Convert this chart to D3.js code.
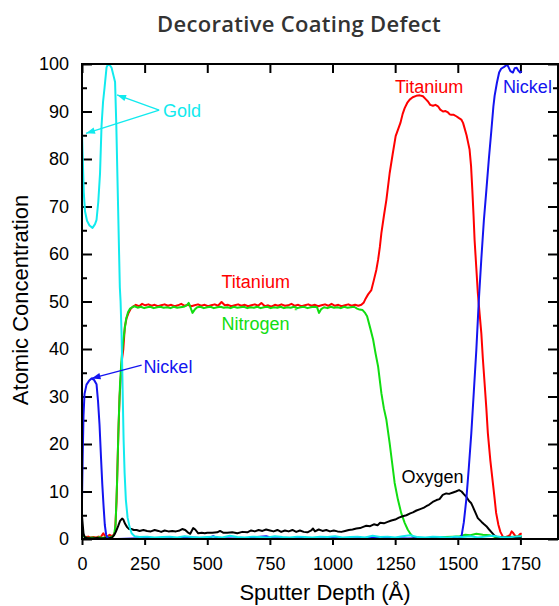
<!DOCTYPE html>
<html>
<head>
<meta charset="utf-8">
<script src="https://cdn.jsdelivr.net/npm/d3@7"></script>
<style>
  body { margin: 0; background: #fff; }
  svg { display: block; }
</style>
</head>
<body>
<svg id="chart" width="559" height="606"></svg>
<script>
// ---------------- DATA (depth in Å, atomic concentration %) ----------------
const title = "Decorative Coating Defect";
const xLabel = "Sputter Depth (Å)";
const yLabel = "Atomic Concentration";
const xTicks = [0, 250, 500, 750, 1000, 1250, 1500, 1750];
const yTicks = [0, 10, 20, 30, 40, 50, 60, 70, 80, 90, 100];
const yMinorTicks = [5, 15, 25, 35, 45, 55, 65, 75, 85, 95];

const titaniumData = [
  [0,1.0],[8,0.6],[16,0.4],[25,0.5],[35,0.3],[45,0.4],[55,0.3],[65,0.5],[75,0.4],[85,1.2],[92,0.6],[100,0.4],
  [110,0.9],[118,0.6],[125,0.8],[132,1.5],[138,8],[145,22],[150,30],[155,34],[160,38],[165,40],[171,44.7],
  [178,46.5],[185,47.5],[195,48.5],[205,49.0],
  [215,49.3],[228,49.0],[240,49.5],[252,49.2],[265,49.4],[278,49.1],[290,49.3],[303,49.0],[316,49.2],[330,49.4],
  [343,49.1],[356,49.3],[370,49.0],[383,49.2],[396,49.5],[410,49.1],[423,49.3],[436,49.0],[450,49.2],[463,49.4],
  [476,49.1],[490,49.3],[503,49.0],[516,49.2],[530,49.4],[543,49.1],[557,49.9],[570,49.2],[583,49.3],[596,49.0],
  [610,49.2],[623,49.4],[636,49.1],[650,49.3],[663,49.0],[676,49.2],[690,49.4],[703,49.1],[716,49.7],[730,49.0],
  [743,49.2],[756,48.9],[770,49.3],[783,49.1],[796,49.4],[810,49.1],[823,49.2],[836,49.5],[850,49.1],[863,49.3],
  [876,49.0],[890,49.2],[903,49.4],[916,49.1],[930,49.3],[943,49.0],[956,49.2],[970,49.4],[983,49.1],[996,49.5],
  [1010,49.1],[1023,49.3],[1036,49.0],[1050,49.2],[1063,49.4],[1076,49.1],[1090,49.3],[1103,49.1],[1115,49.3],
  [1125,49.8],[1132,50.6],[1142,51.5],[1155,52.4],[1165,54.5],[1175,56.7],[1182,58.8],[1189,61.5],[1195,64.4],
  [1205,68],[1215,71.4],[1228,77],[1240,81],[1252,84.8],[1262,86.3],[1271,87.6],[1280,89.5],[1288,90.7],
  [1298,91.8],[1308,92.5],[1320,93],[1334,93.3],[1348,93.4],[1361,93.2],[1372,92.6],[1381,92.1],[1390,91.4],
  [1401,91.2],[1411,91.4],[1421,91.1],[1430,90.4],[1441,90],[1451,90.1],[1461,89.8],[1468,89.4],[1474,89.3],
  [1484,89.3],[1494,89],[1505,88.6],[1514,88.3],[1521,87.6],[1527,86.5],[1535,85],[1541,83.5],[1547,82],
  [1553,78.5],[1558,73.5],[1563,68],[1567,63],[1574,57],[1580,51.8],[1587,47.5],[1594,43.3],[1600,38],
  [1607,32.8],[1614,27.5],[1620,22.3],[1630,16.5],[1640,11.8],[1647,8.5],[1653,5.5],[1662,3],[1670,1.5],
  [1680,0.5],[1690,0.4],[1700,0.6],[1708,0.8],[1715,1.6],[1722,1.2],[1730,0.6],[1740,0.5],[1748,1.0],[1755,1.2]
];

const nitrogenData = [
  [0,1.2],[6,0.6],[15,0.3],[25,0.2],[40,0.3],[55,0.2],[70,0.4],[80,0.2],[90,0.3],[100,0.5],[110,0.3],[120,0.5],
  [128,0.8],[134,3],[140,12],[146,24],[152,33],[158,38],[164,41.5],[170,44],[176,46.3],[184,47.8],[192,48.5],
  [200,48.8],[210,49.0],[222,48.7],[235,48.9],[248,48.6],[260,48.8],[273,48.9],[286,48.6],[300,48.8],[313,48.9],
  [326,48.7],[340,48.8],[353,48.6],[366,48.9],[380,48.7],[393,48.8],[406,48.9],[418,49.2],[426,49.7],[434,48.6],
  [441,47.6],[450,48.3],[460,48.8],[473,48.9],[486,48.6],[500,48.8],[513,48.9],[526,48.6],[540,48.8],[553,48.9],
  [566,48.7],[580,48.8],[593,48.6],[606,48.9],[620,48.7],[633,48.8],[646,48.9],[660,48.6],[673,48.8],[686,48.7],
  [700,48.9],[713,48.6],[726,48.8],[740,48.9],[753,48.6],[766,48.8],[780,48.7],[793,48.9],[806,48.6],[820,48.8],
  [833,48.7],[846,48.9],[860,48.6],[873,48.8],[886,48.9],[900,48.6],[913,48.8],[926,48.9],[938,48.8],[946,47.6],
  [955,48.4],[966,48.8],[980,48.6],[993,48.9],[1006,48.7],[1020,48.8],[1033,48.6],[1046,48.9],[1060,48.7],
  [1073,48.8],[1086,48.9],[1098,48.5],[1108,48.3],[1120,48.2],[1130,47.6],[1138,46.9],[1150,44.5],[1162,42],
  [1172,39],[1182,36.3],[1195,30.7],[1205,27.5],[1215,25.1],[1228,20.2],[1238,16],[1248,11.8],[1261,8.3],
  [1274,5.5],[1288,3.4],[1300,2],[1312,1],[1321,0.5],[1334,0.2],[1360,0.1],[1390,0.2],[1420,0.4],[1450,0.4],
  [1480,0.5],[1508,0.6],[1530,0.9],[1550,0.8],[1574,1.1],[1600,0.9],[1627,0.8],[1645,0.5],[1653,0.2],
  [1670,0.3],[1700,0.4],[1730,0.5],[1755,0.6]
];

const oxygenData = [
  [0,4.8],[3,3],[6,1.2],[10,0.4],[20,0.2],[40,0.1],[60,0.2],[80,0.1],[100,0.2],[120,0.3],[128,0.8],[135,1.5],
  [145,2.8],[152,3.8],[160,4.3],[165,4.1],[172,3.2],[180,2.5],[188,2.1],[197,2.1],[207,1.9],[218,1.9],[230,1.7],
  [245,1.9],[260,1.7],[275,1.6],[290,1.9],[305,1.7],[316,1.5],[330,1.8],[345,1.6],[360,1.7],[375,1.6],[390,1.8],
  [400,2.1],[412,1.9],[422,1.4],[432,1.1],[444,2.3],[452,2.0],[464,1.2],[478,1.3],[490,1.2],[500,1.3],[520,1.3],
  [540,1.4],[551,1.7],[565,1.3],[580,1.3],[600,1.4],[620,1.2],[640,1.5],[660,1.4],[675,1.8],[690,1.6],[705,1.9],
  [720,1.7],[735,2.0],[750,1.8],[765,1.6],[780,1.9],[795,1.5],[810,1.8],[825,1.6],[840,1.9],[855,1.5],[870,1.8],
  [885,1.5],[900,1.4],[915,1.8],[922,2.2],[930,1.6],[945,2.0],[960,1.7],[975,1.9],[990,1.6],[1005,1.8],
  [1020,1.6],[1035,1.5],[1050,1.7],[1065,1.9],[1080,2.0],[1095,2.2],[1110,2.3],[1125,2.6],[1135,2.8],
  [1150,2.7],[1165,3.1],[1180,2.9],[1190,3.4],[1205,3.3],[1220,3.6],[1235,3.9],[1250,4.1],[1265,4.5],
  [1280,4.8],[1295,5.0],[1310,5.4],[1321,5.6],[1335,6.0],[1350,6.3],[1365,6.6],[1374,6.9],[1385,7.2],
  [1400,7.8],[1415,8.2],[1427,8.4],[1440,9.3],[1454,9.6],[1465,9.5],[1481,9.8],[1492,10.0],[1505,10.3],
  [1515,10.0],[1525,9.4],[1534,8.9],[1545,8.0],[1553,7.6],[1560,6.8],[1570,5.6],[1580,4.4],[1595,3.6],
  [1605,3.1],[1614,2.7],[1625,2.0],[1635,1.4],[1645,0.8],[1653,0.5],[1670,0.4],[1690,0.3],[1710,0.4],
  [1730,0.3],[1755,0.4]
];

const nickelData = [
  [0,8],[3,18],[6,26],[10,30.5],[18,32.5],[28,33.3],[38,33.8],[48,33.5],[58,32.6],[64,29],[70,24],[76,17],
  [81,11.5],[86,7],[91,3],[96,1],[102,0.2],[110,0],[140,0],[200,0.1],[260,0.2],[320,0.1],[380,0.2],[440,0.3],
  [500,0.1],[524,0.6],[540,0.2],[600,0.1],[660,0.2],[735,0.6],[760,0.2],[820,0.1],[880,0.2],[940,0.1],
  [1000,0.2],[1060,0.1],[1120,0.2],[1180,0.3],[1240,0.2],[1300,0.1],[1360,0.2],[1420,0.1],[1480,0.2],
  [1500,0.1],[1514,0.3],[1524,3.5],[1534,8.3],[1544,15],[1554,22.3],[1564,31],[1574,39.8],[1584,50.3],
  [1594,59],[1604,67],[1614,73.4],[1624,80],[1634,86],[1642,91],[1647,93.3],[1656,96],[1665,98.2],
  [1673,99],[1685,99.4],[1695,99.8],[1700,99.6],[1710,98.5],[1720,98.2],[1727,99.1],[1735,99.2],
  [1742,98.6],[1749,98.2],[1755,98.5]
];

const goldData = [
  [0,85.5],[3,80],[7,73],[12,69],[20,67],[30,66],[42,65.5],[52,66.3],[58,67.2],[65,71],[72,77],[78,87],
  [84,92],[90,95],[98,99.3],[104,100],[112,99.7],[118,99.2],[126,97.5],[132,96.2],[137,87],[144,70],[151,53],
  [154,50],[158,43],[162,32],[166,21],[170,14],[175,8.3],[182,4.5],[190,2.5],[198,1.2],[210,0.6],[230,0.4],
  [260,0.5],[290,0.3],[320,0.4],[350,0.5],[380,0.3],[410,0.6],[440,0.4],[470,0.3],[500,0.4],[530,0.5],
  [560,0.3],[590,0.7],[620,0.4],[650,0.3],[680,0.5],[710,0.4],[740,0.3],[770,0.6],[800,0.4],[830,0.3],
  [860,0.5],[890,0.4],[920,0.3],[950,0.5],[980,0.4],[1010,0.6],[1040,0.3],[1070,0.4],[1100,0.5],[1130,0.3],
  [1160,0.7],[1190,0.4],[1220,0.5],[1250,0.3],[1280,0.6],[1310,0.8],[1340,0.4],[1370,0.3],[1400,0.5],
  [1430,0.4],[1460,0.3],[1490,0.5],[1520,0.4],[1550,0.6],[1580,0.3],[1610,0.5],[1640,0.7],[1670,0.4],
  [1700,0.3],[1730,0.5],[1755,0.6]
];

// ---------------- LAYOUT ----------------
const colors = { ti: "#ff0000", n: "#11dd11", o: "#000000", ni: "#1414f0", au: "#11eaee" };
const svg = d3.select("#chart");
const pLeft = 82, pTop = 64, pRight = 558, pBottom = 539;

const x = d3.scaleLinear().domain([0, 1900]).range([pLeft, pRight]);
const y = d3.scaleLinear().domain([0, 100]).range([pBottom, pTop]);

svg.append("defs").append("clipPath").attr("id", "plotClip")
  .append("rect").attr("x", pLeft).attr("y", pTop - 1).attr("width", pRight - pLeft).attr("height", pBottom - pTop + 1);

// Title
svg.append("text").attr("x", 299).attr("y", 32).attr("text-anchor", "middle")
  .attr("font-family", "'Open Sans', Lato, sans-serif").attr("font-weight", 600)
  .attr("font-size", 22).attr("letter-spacing", 0.3).attr("fill", "#333").text(title);

const axisFont = "'Liberation Sans', Arial, sans-serif";

// Axes
const gx = svg.append("g").attr("transform", `translate(0,${pBottom})`)
  .call(d3.axisBottom(x).tickValues(xTicks).tickSize(6).tickPadding(12).tickFormat(d3.format("d")));
const gxTop = svg.append("g").attr("transform", `translate(0,${pTop})`)
  .call(d3.axisTop(x).tickValues(xTicks).tickSize(-9).tickFormat(""));
const gy = svg.append("g").attr("transform", `translate(${pLeft},0)`)
  .call(d3.axisLeft(y).tickValues(yTicks).tickSize(-10).tickPadding(13).tickFormat(d3.format("d")));
const gyMinor = svg.append("g").attr("transform", `translate(${pLeft},0)`)
  .call(d3.axisLeft(y).tickValues(yMinorTicks).tickSize(-5).tickFormat(""));
const gyR = svg.append("g").attr("transform", `translate(${pRight},0)`)
  .call(d3.axisRight(y).tickValues(yTicks).tickSize(-10).tickFormat(""));
const gyRMinor = svg.append("g").attr("transform", `translate(${pRight},0)`)
  .call(d3.axisRight(y).tickValues(yMinorTicks).tickSize(-5).tickFormat(""));

[gx, gxTop, gy, gyMinor, gyR, gyRMinor].forEach(g => {
  g.select(".domain").remove();
  g.selectAll(".tick line").attr("stroke", "#000").attr("stroke-width", 2);
  g.selectAll(".tick text").attr("font-family", axisFont).attr("font-size", 18).attr("fill", "#000");
});

// Lines
const line = d3.line().x(d => x(d[0])).y(d => y(d[1]));
const plot = svg.append("g").attr("clip-path", "url(#plotClip)");
[[titaniumData, colors.ti], [nitrogenData, colors.n], [oxygenData, colors.o],
 [nickelData, colors.ni], [goldData, colors.au]].forEach(([data, c]) => {
  plot.append("path").datum(data).attr("d", line).attr("fill", "none")
    .attr("stroke", c).attr("stroke-width", 2).attr("stroke-linejoin", "round");
});

// Frame
svg.append("rect").attr("x", pLeft).attr("y", pTop).attr("width", pRight - pLeft).attr("height", pBottom - pTop)
  .attr("fill", "none").attr("stroke", "#000").attr("stroke-width", 2);

// Axis titles
svg.append("text").attr("x", 325).attr("y", 600).attr("text-anchor", "middle")
  .attr("font-family", axisFont).attr("font-size", 22).attr("fill", "#000").text(xLabel);
svg.append("text").attr("transform", "translate(28,300) rotate(-90)").attr("text-anchor", "middle")
  .attr("font-family", axisFont).attr("font-size", 22).attr("fill", "#000").text(yLabel);

// Annotations
const ann = svg.append("g").attr("font-family", axisFont).attr("font-size", 18);
function label(txt, vx, vy, color, anchor) {
  ann.append("text").attr("x", x(vx)).attr("y", y(vy)).attr("fill", color)
    .attr("text-anchor", anchor || "start").text(txt);
}
function arrow(x1, y1, x2, y2, color) {
  const px1 = x(x1), py1 = y(y1), px2 = x(x2), py2 = y(y2);
  ann.append("line").attr("x1", px1).attr("y1", py1).attr("x2", px2).attr("y2", py2)
    .attr("stroke", color).attr("stroke-width", 1.3);
  const ang = Math.atan2(py2 - py1, px2 - px1), L = 9, W = 3.2;
  const bx = px2 - L * Math.cos(ang), by = py2 - L * Math.sin(ang);
  const nx = -Math.sin(ang) * W, ny = Math.cos(ang) * W;
  ann.append("path").attr("d", `M${px2},${py2}L${bx + nx},${by + ny}L${bx - nx},${by - ny}Z`).attr("fill", color);
}
label("Gold", 323, 88.8, colors.au);
arrow(308, 90.3, 140, 93.5, colors.au);
arrow(308, 90.3, 16, 85.4, colors.au);
label("Titanium", 1249, 93.9, colors.ti);
label("Nickel", 1680, 93.9, colors.ni);
label("Titanium", 557, 52.8, colors.ti);
label("Nitrogen", 557, 44.0, colors.n);
ann.append("text").attr("x", x(847)).attr("y", y(47.5)).attr("fill", colors.n).attr("font-size", 8).text("*");
label("Nickel", 245, 35, colors.ni);
arrow(238, 36.6, 38, 33.8, colors.ni);
label("Oxygen", 1275, 11.8, colors.o);
</script>
</body>
</html>
